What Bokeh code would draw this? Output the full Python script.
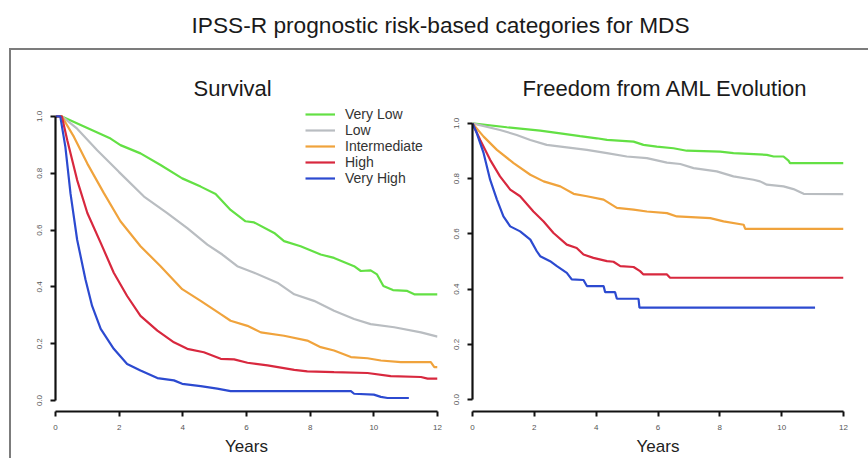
from bokeh.plotting import figure
from bokeh.layouts import column, row, Spacer
from bokeh.models import Range1d, Legend, LegendItem, FixedTicker
from bokeh.embed import file_html
from bokeh.resources import INLINE

FONT = "Liberation Sans"

main_title = "IPSS-R prognostic risk-based categories for MDS"
panel_titles = ["Survival", "Freedom from AML Evolution"]
x_label = "Years"
categories = ["Very Low", "Low", "Intermediate", "High", "Very High"]
colors = ["#63e044", "#b9bdc1", "#f0a33c", "#d8283e", "#2c4ad0"]
x_ticks = [0, 2, 4, 6, 8, 10, 12]
y_ticks = [0.0, 0.2, 0.4, 0.6, 0.8, 1.0]

# ---- Survival (left panel) ----
os_vlow_t = [0, 0.2, 1.73, 2.04, 2.67, 3.3, 3.98, 4.56, 5.03, 5.5, 5.97, 6.24, 6.87, 7.18, 7.7, 8.33, 8.75, 9.38, 9.59, 9.9, 10.1, 10.3, 10.6, 11.05, 11.27, 12.0]
os_vlow_s = [1.0, 1.0, 0.922, 0.899, 0.870, 0.829, 0.782, 0.753, 0.727, 0.671, 0.631, 0.627, 0.590, 0.561, 0.543, 0.514, 0.502, 0.473, 0.456, 0.458, 0.444, 0.403, 0.389, 0.386, 0.374, 0.374]
os_low_t = [0, 0.2, 0.68, 1.31, 1.99, 2.78, 3.51, 4.14, 4.77, 5.24, 5.71, 6.24, 6.97, 7.5, 8.12, 8.75, 9.38, 9.9, 10.64, 11.48, 12.0]
os_low_s = [1.0, 1.0, 0.957, 0.881, 0.805, 0.718, 0.660, 0.607, 0.549, 0.514, 0.473, 0.450, 0.415, 0.374, 0.351, 0.316, 0.287, 0.269, 0.258, 0.240, 0.225]
os_int_t = [0, 0.2, 0.58, 1.0, 1.52, 2.04, 2.67, 3.3, 3.98, 4.56, 5.19, 5.5, 6.03, 6.45, 7.18, 7.91, 8.33, 8.75, 9.28, 9.8, 10.22, 10.85, 11.79, 11.9, 12.0]
os_int_s = [1.0, 1.0, 0.928, 0.834, 0.730, 0.631, 0.543, 0.473, 0.392, 0.351, 0.304, 0.281, 0.263, 0.240, 0.228, 0.211, 0.188, 0.176, 0.153, 0.149, 0.141, 0.135, 0.135, 0.118, 0.118]
os_high_t = [0, 0.2, 0.37, 0.68, 1.0, 1.42, 1.83, 2.25, 2.67, 3.2, 3.72, 4.14, 4.66, 5.19, 5.61, 6.03, 6.66, 7.5, 7.91, 8.75, 9.8, 10.53, 11.48, 11.69, 12.0]
os_high_s = [1.0, 1.0, 0.916, 0.776, 0.660, 0.555, 0.450, 0.368, 0.298, 0.246, 0.205, 0.182, 0.170, 0.147, 0.145, 0.133, 0.124, 0.108, 0.103, 0.100, 0.097, 0.086, 0.083, 0.077, 0.077]
os_vhigh_t = [0, 0.15, 0.31, 0.47, 0.68, 0.94, 1.15, 1.42, 1.83, 2.25, 2.67, 3.2, 3.72, 3.98, 4.56, 5.08, 5.5, 6.66, 9.28, 9.38, 10.0, 10.22, 10.43, 11.1]
os_vhigh_s = [1.0, 1.0, 0.893, 0.730, 0.566, 0.427, 0.333, 0.252, 0.182, 0.129, 0.106, 0.079, 0.071, 0.059, 0.051, 0.042, 0.033, 0.033, 0.033, 0.024, 0.021, 0.013, 0.009, 0.009]

# ---- Freedom from AML evolution (right panel) ----
aml_vlow_t = [0, 1.11, 2.19, 2.84, 3.48, 4.02, 4.35, 5.21, 5.53, 5.96, 6.5, 6.93, 8.01, 8.44, 9.52, 9.74, 10.06, 10.22, 10.27, 12.0]
aml_vlow_s = [1.0, 0.986, 0.974, 0.964, 0.954, 0.946, 0.940, 0.934, 0.922, 0.916, 0.910, 0.901, 0.898, 0.892, 0.886, 0.880, 0.880, 0.865, 0.856, 0.856]
aml_low_t = [0, 0.89, 1.43, 1.87, 2.40, 3.05, 3.70, 4.35, 4.99, 5.64, 6.29, 6.72, 7.15, 7.9, 8.44, 9.09, 9.3, 9.52, 10.06, 10.38, 10.71, 12.0]
aml_low_s = [1.0, 0.976, 0.958, 0.940, 0.922, 0.913, 0.904, 0.892, 0.880, 0.874, 0.858, 0.853, 0.838, 0.826, 0.808, 0.796, 0.790, 0.778, 0.772, 0.762, 0.745, 0.744]
aml_int_t = [0, 0.36, 0.79, 1.33, 1.87, 2.30, 2.84, 3.27, 3.70, 4.24, 4.67, 5.21, 5.64, 6.29, 6.61, 7.69, 8.12, 8.77, 8.82, 12.0]
aml_int_s = [1.0, 0.952, 0.904, 0.856, 0.814, 0.790, 0.772, 0.745, 0.736, 0.724, 0.694, 0.688, 0.681, 0.675, 0.663, 0.657, 0.645, 0.633, 0.618, 0.618]
aml_high_t = [0, 0.25, 0.57, 0.89, 1.22, 1.54, 1.97, 2.30, 2.62, 3.05, 3.37, 3.59, 3.91, 4.35, 4.56, 4.78, 5.21, 5.42, 5.53, 6.29, 6.39, 12.0]
aml_high_s = [1.0, 0.940, 0.868, 0.808, 0.760, 0.736, 0.681, 0.645, 0.603, 0.561, 0.549, 0.525, 0.513, 0.501, 0.499, 0.483, 0.480, 0.465, 0.453, 0.453, 0.441, 0.441]
aml_vhigh_t = [0, 0.14, 0.36, 0.57, 0.79, 1.0, 1.22, 1.54, 1.87, 2.08, 2.19, 2.51, 2.73, 3.05, 3.21, 3.59, 3.70, 4.24, 4.29, 4.61, 4.67, 5.37, 5.40, 11.08]
aml_vhigh_s = [1.0, 0.964, 0.892, 0.796, 0.724, 0.663, 0.627, 0.609, 0.579, 0.537, 0.519, 0.501, 0.483, 0.459, 0.435, 0.433, 0.411, 0.411, 0.389, 0.389, 0.365, 0.365, 0.333, 0.333]

os_curves = [(os_vlow_t, os_vlow_s), (os_low_t, os_low_s), (os_int_t, os_int_s),
             (os_high_t, os_high_s), (os_vhigh_t, os_vhigh_s)]
aml_curves = [(aml_vlow_t, aml_vlow_s), (aml_low_t, aml_low_s), (aml_int_t, aml_int_s),
              (aml_high_t, aml_high_s), (aml_vhigh_t, aml_vhigh_s)]


def make_panel(title, curves, width, height, mb_left, mb_right, mb_top, mb_bottom,
               ystart, yend, title_offset, title_standoff):
    p = figure(width=width, height=height, output_backend="svg", toolbar_location=None,
               min_border_left=mb_left, min_border_right=mb_right,
               min_border_top=mb_top, min_border_bottom=mb_bottom,
               x_range=Range1d(0, 12), y_range=Range1d(ystart, yend))
    p.title.text = title
    p.title.align = "left"
    p.title.offset = title_offset
    p.title.standoff = title_standoff
    p.title.text_font = FONT
    p.title.text_font_size = "22px"
    p.title.text_font_style = "normal"
    p.title.text_color = "#1a1a1a"
    p.outline_line_color = None
    p.grid.grid_line_color = None
    p.background_fill_color = "white"
    p.border_fill_color = "white"
    renderers = []
    for (t, s), c in zip(curves, colors):
        r = p.line(t, s, line_color=c, line_width=2.2)
        renderers.append(r)
    for ax in (p.xaxis[0], p.yaxis[0]):
        ax.axis_line_width = 2.2
        ax.axis_line_color = "#111111"
        ax.major_tick_line_width = 2
        ax.major_tick_line_color = "#111111"
        ax.major_tick_out = 5
        ax.major_tick_in = 0
        ax.minor_tick_line_color = None
        ax.major_label_text_font = FONT
        ax.major_label_text_font_size = "8px"
        ax.major_label_text_color = "#555555"
    p.xaxis.bounds = (0, 12)
    p.yaxis.bounds = (0, 1)
    p.xaxis.ticker = FixedTicker(ticks=x_ticks)
    p.yaxis.ticker = FixedTicker(ticks=y_ticks)
    p.yaxis.major_label_overrides = {v: f"{v:.1f}" for v in y_ticks}
    p.yaxis.major_label_orientation = "vertical"
    p.yaxis.major_label_standoff = 8
    p.xaxis.major_label_standoff = 8
    p.xaxis.axis_label = x_label
    p.xaxis.axis_label_text_font = FONT
    p.xaxis.axis_label_text_font_size = "17px"
    p.xaxis.axis_label_text_font_style = "normal"
    p.xaxis.axis_label_text_color = "#222222"
    p.xaxis.axis_label_standoff = 4
    return p, renderers


# title strip
p0 = figure(width=868, height=48, output_backend="svg", toolbar_location=None,
            min_border_left=0, min_border_right=0, min_border_top=37, min_border_bottom=0)
p0.title.text = main_title
p0.title.align = "left"
p0.title.offset = 191
p0.title.text_font = FONT
p0.title.text_font_size = "22.7px"
p0.title.text_font_style = "normal"
p0.title.text_color = "#1a1a1a"
p0.title.standoff = 0
p0.axis.visible = False
p0.grid.grid_line_color = None
p0.outline_line_color = None

# both frames share top/bottom (row aligns them); ranges set the per-panel scale
p1, r1 = make_panel(panel_titles[0], os_curves, 433, 408, 44, 7, 55, 45,
                    -0.0385, 1.0385, 138, 10)
p2, r2 = make_panel(panel_titles[1], aml_curves, 424, 408, 28, 25, 55, 45,
                    -0.0432, 1.0647, 50, 10)

legend = Legend(items=[LegendItem(label=c, renderers=[r]) for c, r in zip(categories, r1)],
                location=(250, 225))
legend.background_fill_alpha = 0
legend.border_line_color = None
legend.padding = 0
legend.margin = 0
legend.spacing = 0
legend.glyph_width = 30
legend.glyph_height = 14
legend.label_height = 14
legend.label_standoff = 10
legend.label_text_font = FONT
legend.label_text_font_size = "14px"
legend.label_text_color = "#333333"
legend.label_text_baseline = "middle"
p1.add_layout(legend)

body = row(p1, p2, styles={"border-top": "2px solid #7c7c7c", "border-left": "2px solid #7c7c7c"})
layout = column(p0, row(Spacer(width=9, height=410), body))

open("out.html", "w").write(file_html(layout, INLINE))
